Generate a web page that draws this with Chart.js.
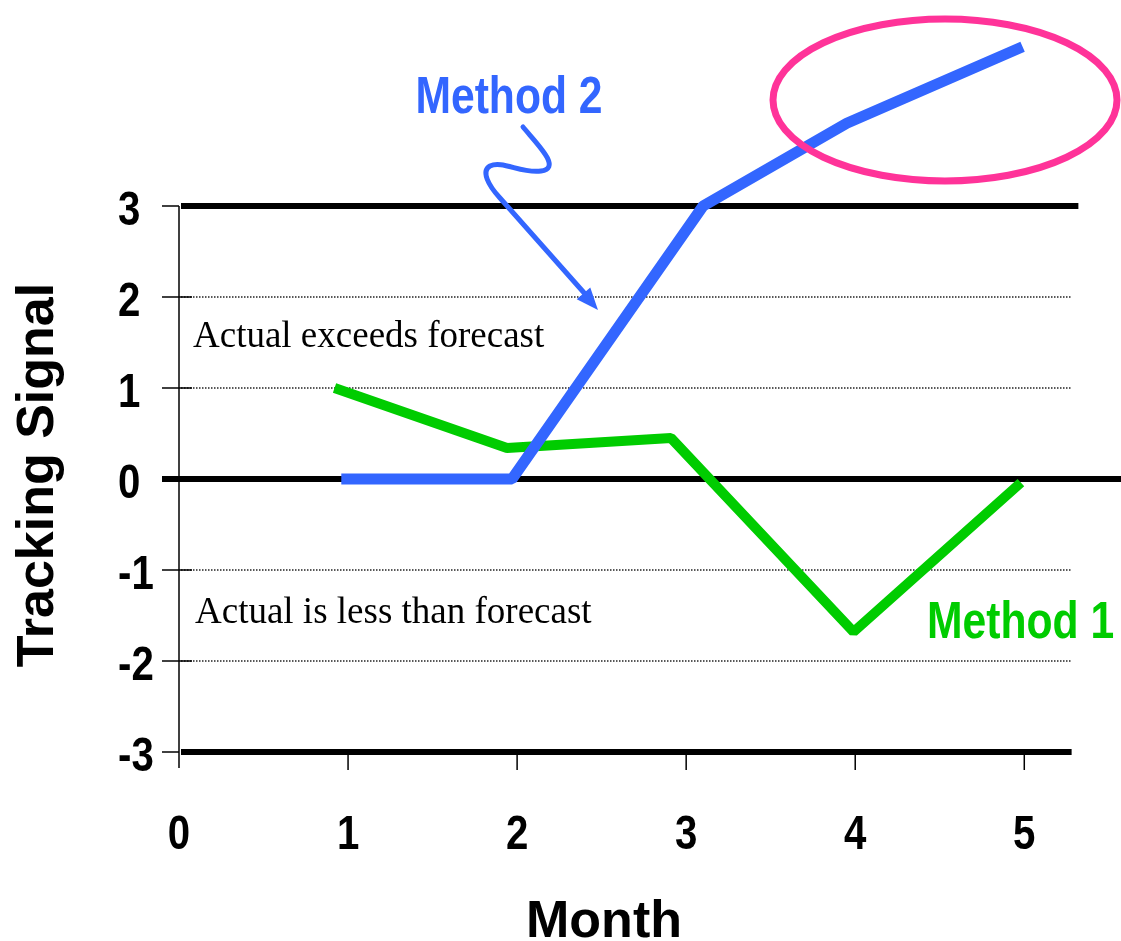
<!DOCTYPE html>
<html>
<head>
<meta charset="utf-8">
<script src="https://cdn.jsdelivr.net/npm/chart.js@4.4.1/dist/chart.umd.min.js"></script>
<style>
  html, body { margin: 0; padding: 0; background: #ffffff; }
  canvas { display: block; }
</style>
</head>
<body>
<canvas id="chart" width="1121" height="941"></canvas>
<script>
// Tick values on each axis
const monthTicks = [0, 1, 2, 3, 4, 5];
const signalTicks = [-3, -2, -1, 0, 1, 2, 3];

// Method 1 tracking signal (month, signal)
const method1Month = [0.92, 1.94, 2.91, 3.99, 4.98];
const method1Signal = [1.0, 0.34, 0.45, -1.68, -0.04];

// Method 2 tracking signal (month, signal)
const method2Month = [0.96, 1.97, 3.10, 3.95, 4.99];
const method2Signal = [0.0, 0.0, 3.0, 3.91, 4.75];

// Control limits drawn as heavy lines, the rest as dotted guides
const limitLines = [3, 0, -3];

const BLUE = '#3366FF';
const GREEN = '#00CC00';
const PINK = '#FF3399';
const SANS = '"Liberation Sans", Arial, sans-serif';
const SERIF = '"Liberation Serif", "Times New Roman", serif';
const NARROW_SCALE = 0.82; // condensed bold lettering

const toPoints = (xs, ys) => xs.map((x, i) => ({ x: x, y: ys[i] }));

// Bold sans text squeezed horizontally to a narrow face
function narrowText(ctx, text, x, y, align, size, color) {
  ctx.save();
  ctx.font = 'bold ' + size + 'px ' + SANS;
  ctx.fillStyle = color;
  ctx.textBaseline = 'alphabetic';
  ctx.textAlign = align;
  ctx.translate(x, y);
  ctx.scale(NARROW_SCALE, 1);
  ctx.fillText(text, 0, 0);
  ctx.restore();
}

// Axis lines, tick marks and horizontal guides, drawn under the series
const guidesPlugin = {
  id: 'guides',
  beforeDatasetsDraw(chart) {
    const { ctx, scales: { x, y } } = chart;
    const x0 = x.getPixelForValue(0);
    ctx.save();
    signalTicks.forEach(v => {
      const py = y.getPixelForValue(v);
      if (limitLines.includes(v)) {
        ctx.strokeStyle = '#000';
        ctx.lineWidth = 6;
        ctx.setLineDash([]);
        let xs = x0 + 2, xe = x.getPixelForValue(5.32);
        if (v === 0) { xs = x0 - 17; xe = chart.width; }
        if (v === -3) { xe = x.getPixelForValue(5.28); }
        ctx.beginPath(); ctx.moveTo(xs, py); ctx.lineTo(xe, py); ctx.stroke();
      } else {
        ctx.strokeStyle = '#222';
        ctx.lineWidth = 1.5;
        ctx.setLineDash([1.5, 1.5]);
        ctx.beginPath(); ctx.moveTo(x0 + 2, py); ctx.lineTo(x.right - 3, py); ctx.stroke();
      }
      // tick mark crossing the axis
      ctx.setLineDash([]);
      ctx.strokeStyle = '#000';
      ctx.lineWidth = 1.5;
      ctx.beginPath(); ctx.moveTo(x0 - 17, py); ctx.lineTo(x0 + (limitLines.includes(v) ? 0 : 13), py); ctx.stroke();
    });
    // vertical axis line
    const yTop = y.getPixelForValue(3), yBot = y.getPixelForValue(-3);
    ctx.lineWidth = 1.5;
    ctx.beginPath(); ctx.moveTo(x0, yTop); ctx.lineTo(x0, yBot + 16); ctx.stroke();
    // month ticks below the lower limit
    monthTicks.forEach(m => {
      if (m === 0) return;
      const px = x.getPixelForValue(m);
      ctx.beginPath(); ctx.moveTo(px, yBot); ctx.lineTo(px, yBot + 18); ctx.stroke();
    });
    ctx.restore();
  }
};

// Tick labels taken from the scales, set in narrow bold lettering
const tickLabelsPlugin = {
  id: 'tickLabels',
  afterDraw(chart) {
    const { ctx, scales: { x, y } } = chart;
    x.ticks.forEach(t => {
      narrowText(ctx, String(t.value), x.getPixelForValue(t.value), y.bottom + 97, 'center', 49, '#000');
    });
    y.ticks.forEach(t => {
      narrowText(ctx, String(t.value), 118, y.getPixelForValue(t.value) + 19, 'left', 49, '#000');
    });
  }
};

// Titles, callouts and notes on top of the series
const notesPlugin = {
  id: 'notes',
  afterDatasetsDraw(chart) {
    const { ctx } = chart;
    ctx.save();
    ctx.setLineDash([]);

    // highlight around Method 2 beyond the limit
    ctx.strokeStyle = PINK;
    ctx.lineWidth = 7;
    ctx.beginPath();
    ctx.ellipse(945, 100, 172, 81, 0, 0, Math.PI * 2);
    ctx.stroke();

    // squiggle arrow from the Method 2 label
    ctx.strokeStyle = BLUE;
    ctx.fillStyle = BLUE;
    ctx.lineWidth = 5;
    ctx.lineCap = 'round';
    ctx.lineJoin = 'round';
    ctx.beginPath();
    ctx.moveTo(523, 127);
    ctx.bezierCurveTo(538, 145, 562, 168, 541, 171);
    ctx.bezierCurveTo(522, 174, 502, 160, 490, 166);
    ctx.bezierCurveTo(481, 171, 488, 185, 500, 198);
    ctx.lineTo(586, 295);
    ctx.stroke();
    const tipX = 598, tipY = 310;
    const ang = Math.atan2(tipY - 198, tipX - 500);
    const len = 22, half = 9;
    ctx.beginPath();
    ctx.moveTo(tipX, tipY);
    ctx.lineTo(tipX - len * Math.cos(ang) + half * Math.sin(ang), tipY - len * Math.sin(ang) - half * Math.cos(ang));
    ctx.lineTo(tipX - len * Math.cos(ang) - half * Math.sin(ang), tipY - len * Math.sin(ang) + half * Math.cos(ang));
    ctx.closePath();
    ctx.fill();
    ctx.restore();

    // series labels
    narrowText(ctx, 'Method 2', 509, 113, 'center', 52, BLUE);
    narrowText(ctx, 'Method 1', 927, 638, 'left', 52, GREEN);

    // region notes
    ctx.save();
    ctx.fillStyle = '#000';
    ctx.textBaseline = 'alphabetic';
    ctx.textAlign = 'left';
    ctx.font = '37px ' + SERIF;
    ctx.fillText('Actual exceeds forecast', 193, 347);
    ctx.fillText('Actual is less than forecast', 195, 623);

    // axis titles
    ctx.font = 'bold 52px ' + SANS;
    ctx.textAlign = 'center';
    ctx.fillText('Month', 604, 937);
    ctx.translate(53, 475);
    ctx.rotate(-Math.PI / 2);
    ctx.fillText('Tracking Signal', 0, 0);
    ctx.restore();
  }
};

new Chart(document.getElementById('chart'), {
  type: 'line',
  data: {
    datasets: [
      {
        label: 'Method 2',
        data: toPoints(method2Month, method2Signal),
        borderColor: BLUE,
        borderWidth: 11,
        order: 0
      },
      {
        label: 'Method 1',
        data: toPoints(method1Month, method1Signal),
        borderColor: GREEN,
        borderWidth: 10,
        order: 1
      }
    ]
  },
  options: {
    responsive: false,
    animation: false,
    devicePixelRatio: 1,
    layout: { padding: { left: 118, top: 206, right: 46, bottom: 0 } },
    elements: {
      line: { tension: 0, fill: false, borderCapStyle: 'butt', borderJoinStyle: 'bevel' },
      point: { radius: 0, hoverRadius: 0 }
    },
    datasets: { line: { clip: false } },
    plugins: { legend: { display: false }, tooltip: { enabled: false } },
    scales: {
      x: {
        type: 'linear',
        min: 0,
        max: 5.3,
        grid: { display: false },
        border: { display: false },
        afterBuildTicks: s => { s.ticks = monthTicks.map(v => ({ value: v })); },
        afterFit: s => { s.height = 189; },
        ticks: { display: false }
      },
      y: {
        type: 'linear',
        min: -3,
        max: 3,
        grid: { display: false },
        border: { display: false },
        afterBuildTicks: s => { s.ticks = signalTicks.map(v => ({ value: v })); },
        afterFit: s => { s.width = 61; },
        ticks: { display: false }
      }
    }
  },
  plugins: [guidesPlugin, tickLabelsPlugin, notesPlugin]
});
</script>
</body>
</html>
